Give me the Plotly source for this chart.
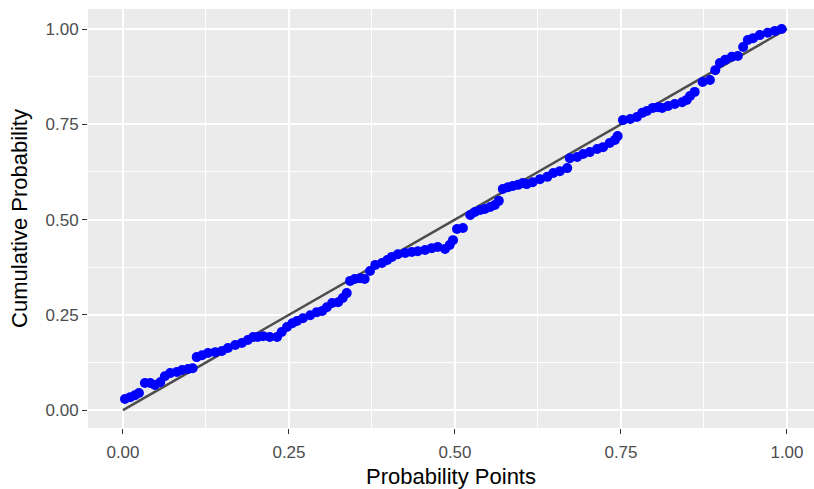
import plotly.graph_objects as go

# Probability points (x) and cumulative probabilities (y)
prob_points = [
    0.003, 0.011, 0.018, 0.024, 0.033, 0.041, 0.048, 0.056, 0.063, 0.071,
    0.081, 0.089, 0.098, 0.105, 0.111, 0.119, 0.128, 0.139, 0.149, 0.158,
    0.169, 0.179, 0.188, 0.196, 0.203, 0.211, 0.221, 0.232, 0.239, 0.247,
    0.255, 0.262, 0.271, 0.282, 0.292, 0.300, 0.307, 0.315, 0.324, 0.331,
    0.337, 0.342, 0.349, 0.357, 0.364, 0.372, 0.380, 0.390, 0.398, 0.405,
    0.414, 0.425, 0.435, 0.444, 0.455, 0.465, 0.474, 0.485, 0.492, 0.497,
    0.503, 0.512, 0.523, 0.530, 0.538, 0.545, 0.553, 0.560, 0.566, 0.572,
    0.580, 0.587, 0.595, 0.602, 0.608, 0.617, 0.628, 0.639, 0.648, 0.658,
    0.669, 0.673, 0.684, 0.693, 0.703, 0.714, 0.723, 0.733, 0.741, 0.745,
    0.753, 0.764, 0.774, 0.782, 0.789, 0.798, 0.806, 0.812, 0.821, 0.831,
    0.842, 0.849, 0.854, 0.861, 0.873, 0.884, 0.892, 0.899, 0.907, 0.917,
    0.926, 0.934, 0.941, 0.949, 0.959, 0.971, 0.982, 0.992,
]
cum_prob = [
    0.029, 0.034, 0.039, 0.045, 0.071, 0.071, 0.066, 0.073, 0.089, 0.097,
    0.100, 0.105, 0.108, 0.110, 0.139, 0.144, 0.150, 0.152, 0.155, 0.163,
    0.171, 0.176, 0.184, 0.192, 0.192, 0.194, 0.192, 0.192, 0.205, 0.218,
    0.228, 0.234, 0.241, 0.249, 0.257, 0.260, 0.270, 0.281, 0.283, 0.294,
    0.307, 0.339, 0.344, 0.346, 0.344, 0.365, 0.381, 0.386, 0.394, 0.402,
    0.409, 0.412, 0.415, 0.417, 0.420, 0.425, 0.428, 0.423, 0.433, 0.446,
    0.475, 0.478, 0.512, 0.520, 0.525, 0.528, 0.533, 0.538, 0.549, 0.580,
    0.585, 0.588, 0.591, 0.596, 0.593, 0.598, 0.606, 0.612, 0.622, 0.627,
    0.635, 0.661, 0.664, 0.672, 0.677, 0.685, 0.690, 0.701, 0.709, 0.719,
    0.761, 0.764, 0.769, 0.780, 0.785, 0.793, 0.795, 0.793, 0.798, 0.803,
    0.808, 0.814, 0.824, 0.835, 0.861, 0.866, 0.892, 0.911, 0.919, 0.927,
    0.929, 0.953, 0.971, 0.976, 0.984, 0.990, 0.995, 1.000,
]
ref_line_x = [0.0, 1.0]
ref_line_y = [0.0, 1.0]
tick_vals = [0.0, 0.25, 0.5, 0.75, 1.0]
tick_text = ["0.00", "0.25", "0.50", "0.75", "1.00"]

FONT = "Liberation Sans, Arial, sans-serif"

fig = go.Figure()
fig.add_trace(go.Scatter(
    x=ref_line_x, y=ref_line_y, mode="lines",
    line=dict(color="#4D4D4D", width=2.5), showlegend=False, hoverinfo="skip",
))
fig.add_trace(go.Scatter(
    x=prob_points, y=cum_prob, mode="markers",
    marker=dict(color="#0000FF", size=10, line=dict(width=0)), showlegend=False,
))

axis_common = dict(
    tickvals=tick_vals, ticktext=tick_text,
    showgrid=True, gridcolor="white", gridwidth=1.8,
    zeroline=False, showline=False,
    ticks="outside", ticklen=5, tickwidth=1.3, tickcolor="#333333",
    tickfont=dict(family=FONT, size=17, color="#4D4D4D"),
    minor=dict(dtick=0.125, tick0=0, showgrid=True, gridcolor="white", gridwidth=0.9, ticks=""),
)

fig.update_layout(
    width=814, height=489,
    margin=dict(l=88, r=0, t=9, b=61),
    paper_bgcolor="white", plot_bgcolor="#EBEBEB",
    font=dict(family=FONT),
    xaxis=dict(range=[-0.0527, 1.0407], ticklabelstandoff=4,
               title=dict(text="Probability Points", standoff=9,
                          font=dict(family=FONT, size=22, color="black")),
               **axis_common),
    yaxis=dict(range=[-0.047, 1.0525],
               title=dict(text="Cumulative Probability", standoff=11,
                          font=dict(family=FONT, size=22, color="black")),
               **axis_common),
)

fig.write_html("out.html")
